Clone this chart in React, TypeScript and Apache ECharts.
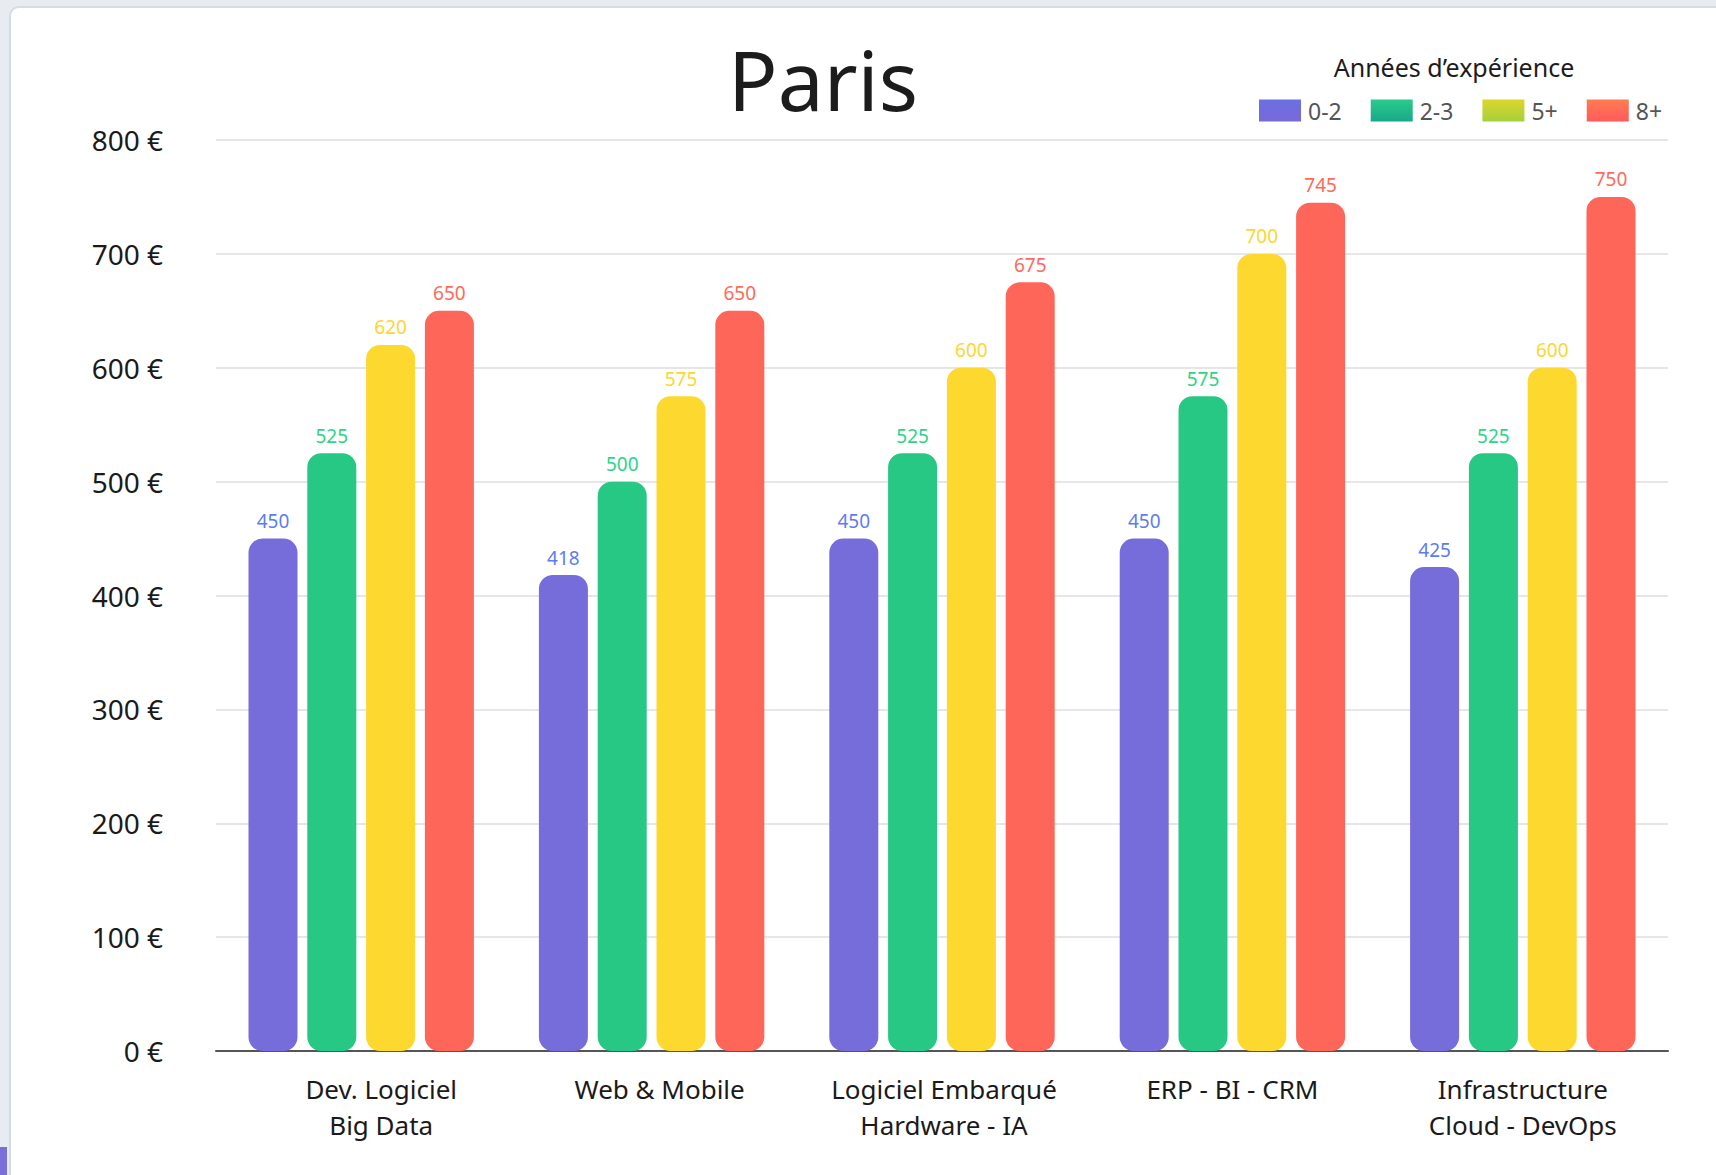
import React, { useEffect, useRef } from "react";
import * as echarts from "echarts";

const categories = [
  "Dev. Logiciel\nBig Data",
  "Web & Mobile",
  "Logiciel Embarqué\nHardware - IA",
  "ERP - BI - CRM",
  "Infrastructure\nCloud - DevOps",
];
const seriesNames = ["0-2", "2-3", "5+", "8+"];
const values02 = [450, 418, 450, 450, 425];
const values23 = [525, 500, 525, 575, 525];
const values5 = [620, 575, 600, 700, 600];
const values8 = [650, 650, 675, 745, 750];
const yTicks = [0, 100, 200, 300, 400, 500, 600, 700, 800];

const barColors = ["#766DDB", "#27C784", "#FDD82F", "#FF665A"];
const labelColors = ["#5E7CF2", "#2ED489", "#FCD634", "#FF6A5A"];
const legendGrad = [
  ["#6A70E2", "#7A68D8"],
  ["#2ACB8A", "#18A88A"],
  ["#DDD62A", "#A5D03E"],
  ["#FF7C50", "#FF5A5C"],
];

const FONT = "'Noto Sans', sans-serif";

export default function App() {
  const ref = useRef<HTMLDivElement>(null);

  useEffect(() => {
    document.body.style.margin = "0";
    if (!ref.current) return;
    const chart = echarts.init(ref.current, null, { renderer: "svg" });
    const allValues = [values02, values23, values5, values8];
    // horizontal nudges of category labels, as in the reference layout
    const labelShift = [40, 16, 4, 0, 0];

    chart.setOption({
      animation: false,
      backgroundColor: "transparent",
      textStyle: { fontFamily: FONT },
      grid: { left: 216, right: 48, top: 140, bottom: 124, containLabel: false },
      graphic: [
        {
          type: "text",
          x: 823,
          y: 79,
          style: {
            text: "Paris",
            fontSize: 82,
            fontFamily: FONT,
            fill: "#1c1c1c",
            textAlign: "center",
            textVerticalAlign: "middle",
          },
        },
        {
          type: "text",
          x: 1454,
          y: 67,
          style: {
            text: "Années d’expérience",
            fontSize: 25,
            fontFamily: FONT,
            fill: "#1c1c1c",
            textAlign: "center",
            textVerticalAlign: "middle",
          },
        },
      ],
      legend: {
        left: 1259,
        top: 99,
        padding: 0,
        itemWidth: 42,
        itemHeight: 22,
        itemGap: 29,
        icon: "rect",
        textStyle: { fontSize: 23, color: "#555", fontFamily: FONT, padding: [0, 0, 0, 2] },
        data: seriesNames.map((n, i) => ({
          name: n,
          itemStyle: {
            color: new echarts.graphic.LinearGradient(0, 0, 0, 1, [
              { offset: 0, color: legendGrad[i][0] },
              { offset: 1, color: legendGrad[i][1] },
            ]),
          },
        })),
      },
      xAxis: {
        type: "category",
        data: categories.map((c, i) => ({
          value: c,
          textStyle: { padding: [0, 0, 0, labelShift[i]] },
        })),
        axisLine: { show: true, lineStyle: { color: "#555", width: 2 } },
        axisTick: { show: false },
        axisLabel: {
          fontSize: 26,
          lineHeight: 36,
          color: "#1a1a1a",
          fontFamily: FONT,
          margin: 20,
          interval: 0,
        },
      },
      yAxis: {
        type: "value",
        min: yTicks[0],
        max: yTicks[yTicks.length - 1],
        interval: 100,
        axisLine: { show: false },
        axisTick: { show: false },
        splitLine: { lineStyle: { color: "#E6E6E6", width: 2 } },
        axisLabel: {
          fontSize: 28,
          color: "#1a1a1a",
          fontFamily: FONT,
          margin: 53,
          padding: [0, 0, 4, 0],
          formatter: (v: number) => `${v} €`,
        },
      },
      series: seriesNames.map((n, i) => ({
        name: n,
        type: "bar",
        data: allValues[i],
        barWidth: 49,
        barGap: "20%",
        itemStyle: { color: barColors[i], borderRadius: 14 },
        label: {
          show: true,
          position: "top",
          distance: 8,
          fontSize: 19,
          color: labelColors[i],
          fontFamily: FONT,
        },
      })),
    });

    return () => chart.dispose();
  }, []);

  return (
    <div style={{ position: "fixed", left: 0, top: 0, width: 1716, height: 1175, background: "#E8ECF1", overflow: "hidden" }}>
      <div
        style={{
          position: "absolute",
          left: 9,
          top: 6,
          width: 1740,
          height: 1200,
          background: "#fff",
          borderRadius: 10,
          border: "2px solid #D3DCE7",
          boxSizing: "border-box",
        }}
      />
      <div style={{ position: "absolute", left: 0, top: 1147, width: 7, height: 28, background: "#7A6FD9" }} />
      <div ref={ref} style={{ position: "absolute", left: 0, top: 0, width: 1716, height: 1175 }} />
    </div>
  );
}
